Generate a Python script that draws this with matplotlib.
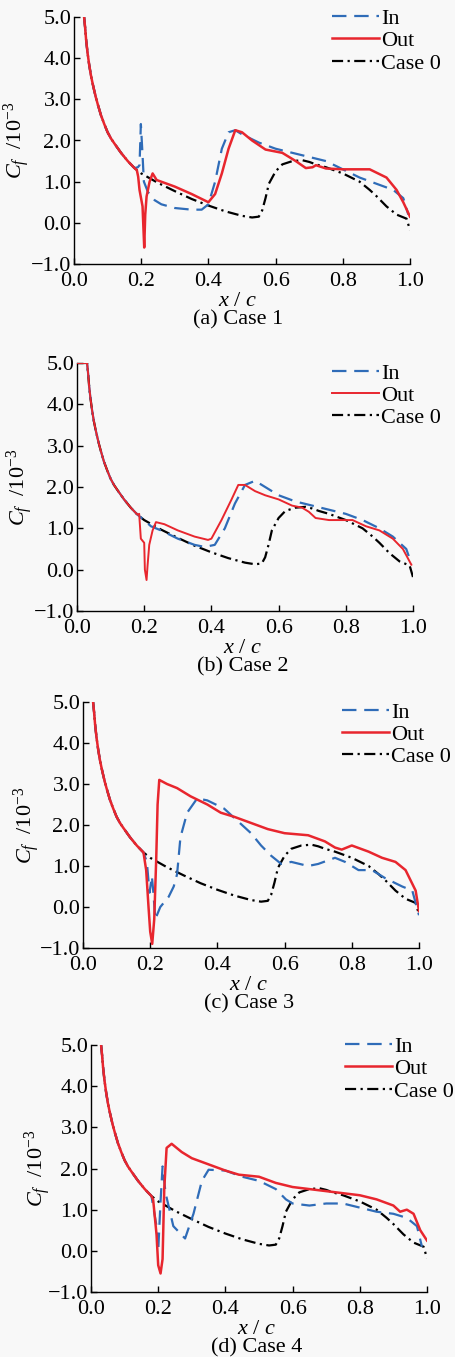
import numpy as np
import matplotlib
matplotlib.use("Agg")
import matplotlib.pyplot as plt

plt.rcParams['font.family'] = ['Liberation Serif', 'DejaVu Serif']
plt.rcParams['mathtext.fontset'] = 'custom'
plt.rcParams['mathtext.rm'] = 'Liberation Serif'
plt.rcParams['mathtext.it'] = 'Liberation Serif:italic'

# leading edge part, shared by all curves
lead_x = [0.03, 0.033, 0.036, 0.04, 0.045, 0.05, 0.055, 0.06, 0.065, 0.07, 0.08, 0.09, 0.10,
          0.11, 0.12, 0.14, 0.16, 0.18]
lead_y = [5.0, 4.75, 4.45, 4.15, 3.85, 3.6, 3.4, 3.22, 3.05, 2.9, 2.62, 2.4, 2.2,
          2.05, 1.93, 1.7, 1.5, 1.33]

# Case 0 (baseline)
case0_x = [0.20, 0.25, 0.30, 0.35, 0.40, 0.45, 0.50, 0.53, 0.55, 0.56, 0.57, 0.58, 0.60,
           0.62, 0.65, 0.68, 0.70, 0.72, 0.75, 0.80, 0.85, 0.88, 0.90, 0.93, 0.96, 0.99, 1.0]
case0_y = [1.2, 0.97, 0.77, 0.58, 0.42, 0.28, 0.17, 0.13, 0.15, 0.3, 0.6, 0.95, 1.25,
           1.42, 1.5, 1.52, 1.48, 1.42, 1.35, 1.2, 1.0, 0.8, 0.65, 0.4, 0.2, 0.1, -0.18]

# Case 1
c1_in_x = [0.19, 0.195, 0.199, 0.203, 0.208, 0.22, 0.24, 0.26, 0.30, 0.35, 0.38, 0.40, 0.42,
           0.44, 0.46, 0.48, 0.50, 0.55, 0.60, 0.65, 0.70, 0.75, 0.80, 0.85, 0.90, 0.95, 0.98, 0.995]
c1_in_y = [1.35, 1.4, 2.4, 1.8, 1.0, 0.75, 0.55, 0.45, 0.36, 0.32, 0.32, 0.45, 1.0,
           1.8, 2.2, 2.25, 2.15, 1.95, 1.8, 1.7, 1.6, 1.5, 1.3, 1.1, 0.95, 0.8, 0.6, 0.2]
c1_out_x = [0.187, 0.191, 0.195, 0.204, 0.209, 0.212, 0.216, 0.225, 0.234, 0.246, 0.30, 0.35,
            0.38, 0.40, 0.42, 0.44, 0.46, 0.48, 0.50, 0.53, 0.57, 0.62, 0.66, 0.69, 0.71, 0.72,
            0.75, 0.80, 0.88, 0.93, 0.96, 0.98, 1.0]
c1_out_y = [1.28, 1.12, 0.8, 0.4, -0.6, 0.2, 0.64, 1.0, 1.2, 1.04, 0.88, 0.7,
            0.58, 0.5, 0.7, 1.2, 1.8, 2.25, 2.2, 2.0, 1.78, 1.7, 1.5, 1.33, 1.35, 1.4,
            1.32, 1.3, 1.3, 1.1, 0.8, 0.5, 0.15]

# Case 2
c2_in_x = [0.20, 0.22, 0.25, 0.30, 0.35, 0.38, 0.41, 0.44, 0.47, 0.50, 0.53, 0.56, 0.60,
           0.65, 0.70, 0.75, 0.80, 0.85, 0.90, 0.94, 0.98, 0.995]
c2_in_y = [1.2, 1.05, 0.95, 0.75, 0.6, 0.55, 0.6, 1.0, 1.6, 2.05, 2.15, 2.0, 1.8,
           1.65, 1.55, 1.45, 1.35, 1.2, 1.0, 0.8, 0.5, 0.15]
c2_out_x = [0.185, 0.19, 0.20, 0.202, 0.207, 0.21, 0.215, 0.225, 0.235, 0.26, 0.30, 0.35, 0.39,
            0.40, 0.43, 0.46, 0.48, 0.50, 0.53, 0.56, 0.60, 0.64, 0.67, 0.69, 0.71, 0.75,
            0.78, 0.82, 0.86, 0.90, 0.94, 0.97, 0.995]
c2_out_y = [1.35, 0.75, 0.65, 0.0, -0.25, 0.1, 0.6, 0.95, 1.15, 1.1, 0.95, 0.8, 0.72,
            0.75, 1.2, 1.7, 2.05, 2.05, 1.9, 1.8, 1.7, 1.55, 1.5, 1.4, 1.25, 1.2,
            1.2, 1.2, 1.05, 0.95, 0.75, 0.5, 0.12]

# Case 3
c3_in_x = [0.19, 0.198, 0.205, 0.21, 0.215, 0.23, 0.255, 0.27, 0.28, 0.29, 0.31, 0.34, 0.37,
           0.42, 0.46, 0.50, 0.53, 0.56, 0.59, 0.62, 0.67, 0.70, 0.75, 0.78, 0.82, 0.86,
           0.90, 0.95, 0.98, 1.0]
c3_in_y = [1.1, 0.35, 0.75, 0.3, -0.3, 0.0, 0.25, 0.5, 0.8, 1.7, 2.3, 2.65, 2.6,
           2.4, 2.1, 1.8, 1.5, 1.25, 1.05, 1.1, 1.0, 1.05, 1.2, 1.1, 0.9, 0.9,
           0.7, 0.5, 0.4, -0.2]
c3_out_x = [0.188, 0.195, 0.20, 0.206, 0.212, 0.218, 0.222, 0.227, 0.25, 0.28, 0.32, 0.37,
            0.41, 0.45, 0.50, 0.55, 0.60, 0.67, 0.72, 0.75, 0.77, 0.80, 0.85, 0.89, 0.93,
            0.96, 0.99, 1.0]
c3_out_y = [0.9, 0.0, -0.6, -0.9, -0.3, 1.2, 2.5, 3.1, 3.0, 2.9, 2.7, 2.5,
            2.3, 2.2, 2.05, 1.9, 1.8, 1.75, 1.6, 1.45, 1.4, 1.5, 1.35, 1.2, 1.1,
            0.9, 0.4, -0.1]

# Case 4
c4_in_x = [0.195, 0.20, 0.207, 0.213, 0.222, 0.245, 0.28, 0.305, 0.33, 0.35, 0.40, 0.45,
           0.50, 0.55, 0.58, 0.60, 0.65, 0.70, 0.75, 0.80, 0.85, 0.90, 0.94, 0.97, 0.985]
c4_in_y = [0.6, 0.0, 1.2, 2.05, 1.4, 0.6, 0.3, 0.9, 1.7, 1.97, 1.95, 1.8,
           1.7, 1.5, 1.25, 1.15, 1.1, 1.15, 1.15, 1.05, 0.95, 0.9, 0.8, 0.6, 0.1]
c4_out_x = [0.185, 0.195, 0.20, 0.207, 0.213, 0.218, 0.225, 0.24, 0.27, 0.30, 0.35, 0.40,
            0.44, 0.50, 0.55, 0.60, 0.65, 0.70, 0.75, 0.80, 0.85, 0.90, 0.92, 0.94, 0.96,
            0.98, 1.0]
c4_out_y = [1.24, 0.4, -0.35, -0.55, -0.2, 1.5, 2.5, 2.6, 2.4, 2.25, 2.1, 1.95,
            1.85, 1.8, 1.65, 1.55, 1.5, 1.45, 1.4, 1.35, 1.25, 1.1, 0.95, 1.0, 0.9,
            0.5, 0.25]

panels = [
    ("(a) Case 1", c1_in_x, c1_in_y, c1_out_x, c1_out_y),
    ("(b) Case 2", c2_in_x, c2_in_y, c2_out_x, c2_out_y),
    ("(c) Case 3", c3_in_x, c3_in_y, c3_out_x, c3_out_y),
    ("(d) Case 4", c4_in_x, c4_in_y, c4_out_x, c4_out_y),
]

W, H = 456, 1357
# axes boxes in pixels: left, right, top, bottom
boxes = [(74, 410, 17, 264), (77, 413, 363, 611), (83, 419, 702, 948), (91, 427, 1045, 1292)]
ylab_x = [17, 20, 27, 38]
leg_x = [332, 332, 342, 345]
leg_top = [1.035, 1.0, 1.0, 1.035]
lab_dx = [-4, -2, -2, -2]

fig = plt.figure(figsize=(W / 100, H / 100), dpi=100, facecolor='#f8f8f8')

RED = '#e8262e'
BLUE = '#2f6cb8'
FS = 16


def fmt(v, pos):
    return ('%.1f' % v).replace('-', '\u2212')


for i, (title, ix, iy, ox, oy) in enumerate(panels):
    l, r, t, b = boxes[i]
    ax = fig.add_axes([l / W, 1 - b / H, (r - l) / W, (b - t) / H])
    ax.set_facecolor('none')

    xi = np.concatenate([lead_x, ix])
    yi = np.concatenate([lead_y, iy])
    xo = np.concatenate([lead_x, ox])
    yo = np.concatenate([lead_y, oy])
    x0 = np.concatenate([lead_x, case0_x])
    y0 = np.concatenate([lead_y, case0_y])
    if i == 1:
        # flat top near the leading edge in panel (b)
        xo = np.concatenate([[0.0], xo])
        yo = np.concatenate([[5.0], yo])
        x0 = np.concatenate([[0.0], x0])
        y0 = np.concatenate([[5.0], y0])

    ax.plot(x0, y0, color='black', lw=1.6, dashes=(5, 2, 1, 2), label='Case 0', zorder=2)
    ax.plot(xi, yi, color=BLUE, lw=1.6, dashes=(6.5, 3.5), label='In', zorder=3)
    ax.plot(xo, yo, color=RED, lw=1.8 if i != 1 else 1.4, label='Out', zorder=4)

    ax.set_xlim(0, 1.0)
    ax.set_ylim(-1.0, 5.0)
    ax.set_xticks(np.arange(0, 1.01, 0.2))
    ax.set_yticks(np.arange(-1, 5.01, 1.0))
    ax.xaxis.set_major_formatter(matplotlib.ticker.FuncFormatter(fmt))
    ax.yaxis.set_major_formatter(matplotlib.ticker.FuncFormatter(fmt))
    ax.tick_params(direction='in', length=4, width=1, labelsize=FS, pad=2)
    ax.tick_params(axis='x', pad=6)
    for s in ['top', 'right']:
        ax.spines[s].set_visible(False)
    for s in ['left', 'bottom']:
        ax.spines[s].set_linewidth(1.0)

    h, lab = ax.get_legend_handles_labels()
    order = [1, 2, 0]
    ax.legend([h[k] for k in order], [lab[k] for k in order], loc='upper left',
              bbox_to_anchor=((leg_x[i] - l) / (r - l), leg_top[i]),
              frameon=False, fontsize=FS, handlelength=2.1, handletextpad=0.12,
              labelspacing=0.08, borderaxespad=0, borderpad=0)

    cx = (l + r) / 2 + lab_dx[i]
    fig.text(cx / W, 1 - (b + 37) / H, r'$x$ / $c$', ha='center', va='center', fontsize=FS)
    fig.text(cx / W, 1 - (b + 56) / H, title, ha='center', va='center', fontsize=FS)
    fig.text(ylab_x[i] / W, 1 - (t + b) / 2 / H, r'$C_f$  /10$^{-3}$', rotation=90,
             ha='center', va='center', fontsize=FS)

fig.savefig('out.png', dpi=100, facecolor=fig.get_facecolor())
